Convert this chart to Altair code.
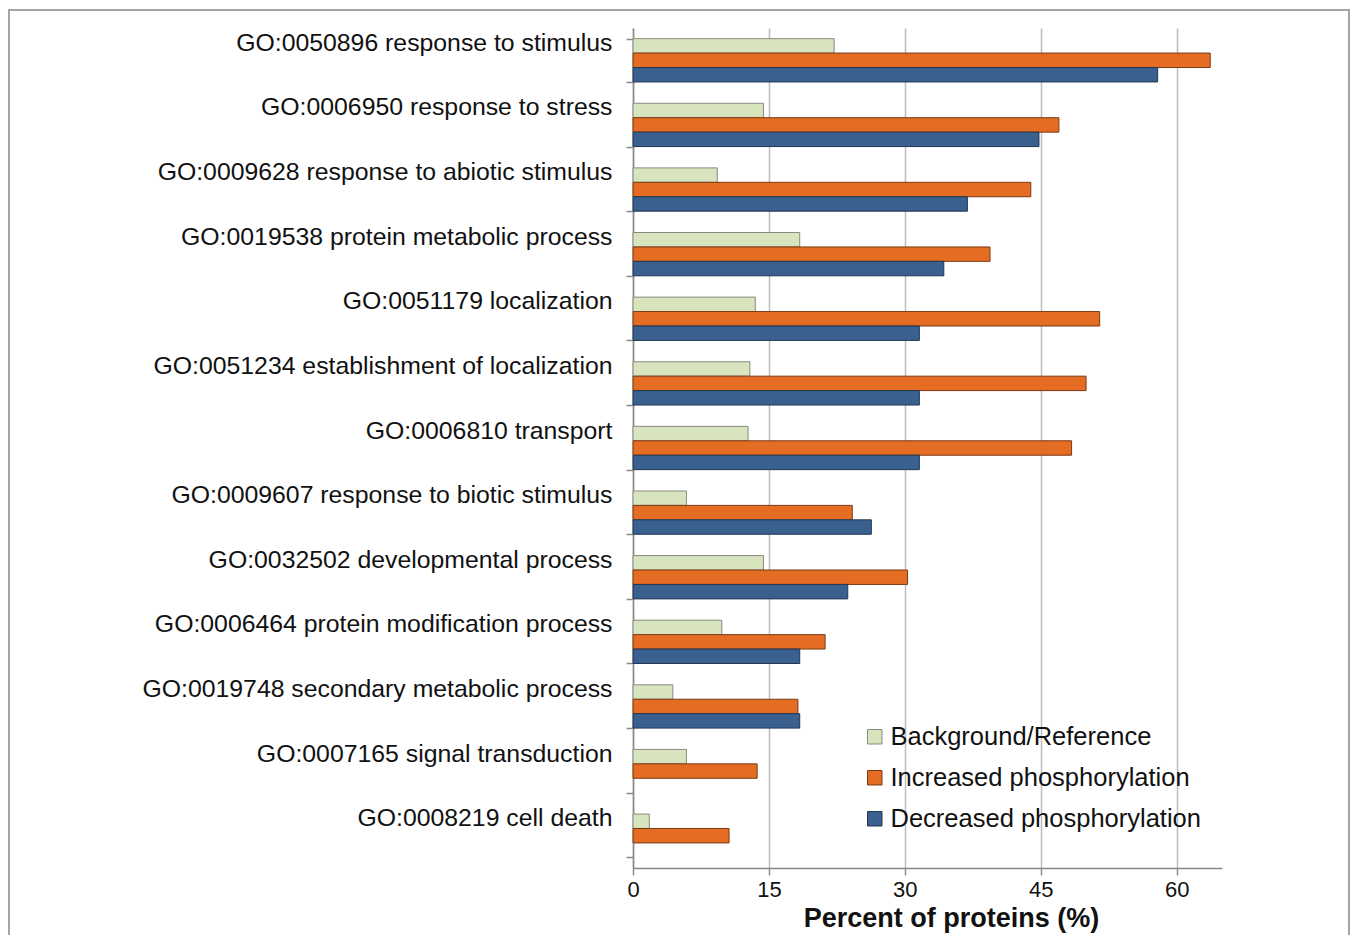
import altair as alt
import pandas as pd

categories = [
    "GO:0050896 response to stimulus",
    "GO:0006950 response to stress",
    "GO:0009628 response to abiotic stimulus",
    "GO:0019538 protein metabolic process",
    "GO:0051179 localization",
    "GO:0051234 establishment of localization",
    "GO:0006810 transport",
    "GO:0009607 response to biotic stimulus",
    "GO:0032502 developmental process",
    "GO:0006464 protein modification process",
    "GO:0019748 secondary metabolic process",
    "GO:0007165 signal transduction",
    "GO:0008219 cell death",
]
series = ["Background/Reference", "Increased phosphorylation", "Decreased phosphorylation"]
background = [22.2, 14.4, 9.3, 18.4, 13.5, 12.9, 12.7, 5.9, 14.4, 9.8, 4.4, 5.9, 1.8]
increased = [63.7, 47.0, 43.9, 39.4, 51.5, 50.0, 48.4, 24.2, 30.3, 21.2, 18.2, 13.7, 10.6]
decreased = [57.9, 44.8, 36.9, 34.3, 31.6, 31.6, 31.6, 26.3, 23.7, 18.4, 18.4, None, None]
x_ticks = [0, 15, 30, 45, 60]

fill_colors = ["#d7e4bd", "#e46c23", "#3a6090"]
stroke_colors = ["#8a8a80", "#7a3a15", "#23364f"]

rows = []
for vals, s in zip([background, increased, decreased], series):
    for c, v in zip(categories, vals):
        if v is not None:
            rows.append({"category": c, "series": s, "value": v})
df = pd.DataFrame(rows)

FONT = "Liberation Sans"

bars = alt.Chart(df).mark_bar(strokeWidth=1).encode(
    y=alt.Y(
        "category:N",
        sort=categories,
        scale=alt.Scale(paddingInner=0.33, paddingOuter=0.165),
        axis=alt.Axis(
            title=None, labelFontSize=24.8, labelColor="#111", labelFont=FONT,
            labelOffset=-17, labelPadding=14, tickSize=7, tickBand="extent",
            tickColor="#888", domainColor="#888", domainWidth=1.5, tickWidth=1.5,
            grid=False, labelLimit=700,
        ),
    ),
    yOffset=alt.YOffset("series:N", sort=series,
                        scale=alt.Scale(domain=series, paddingInner=0, paddingOuter=0)),
    x=alt.X(
        "value:Q",
        scale=alt.Scale(domain=[0, 65], nice=False),
        axis=alt.Axis(
            values=x_ticks, title="Percent of proteins (%)", titleFont=FONT,
            titleFontSize=27, titleFontWeight="bold", titleColor="#111",
            titleX=318, titleY=58, titleBaseline="alphabetic", titleAlign="center",
            labelFont=FONT, labelFontSize=22, labelColor="#111", labelPadding=4,
            labelFlush=False,
            tickSize=7, tickColor="#888", tickWidth=1.5, domainColor="#888", domainWidth=1.5,
            grid=True, gridColor="#bdbdbd", gridWidth=1.5,
        ),
    ),
    fill=alt.Fill(
        "series:N", sort=series,
        scale=alt.Scale(domain=series, range=fill_colors),
        legend=alt.Legend(
            title=None, orient="none", legendX=229, legendY=696,
            symbolType="square", symbolSize=210, symbolStrokeColor="#555",
            symbolStrokeWidth=1, labelFont=FONT, labelFontSize=25.5,
            labelColor="#111", rowPadding=14, labelOffset=3, labelLimit=500,
        ),
    ),
    stroke=alt.Stroke("series:N", scale=alt.Scale(domain=series, range=stroke_colors), legend=None),
)

frame = alt.Chart(pd.DataFrame({"a": [0]})).mark_rect(
    fill="transparent", stroke="#888", strokeWidth=1.5
).encode(
    x=alt.value(-624), x2=alt.value(716), y=alt.value(-18), y2=alt.value(940)
)

chart = alt.layer(frame, bars).properties(
    width=589, height=840,
    autosize=alt.AutoSizeParams(type="none"),
    padding={"left": 625, "top": 20, "right": 128, "bottom": 67},
    background="white",
).configure_view(stroke=None)

chart.save("out.html", embed_options={"renderer": "svg", "actions": False})
